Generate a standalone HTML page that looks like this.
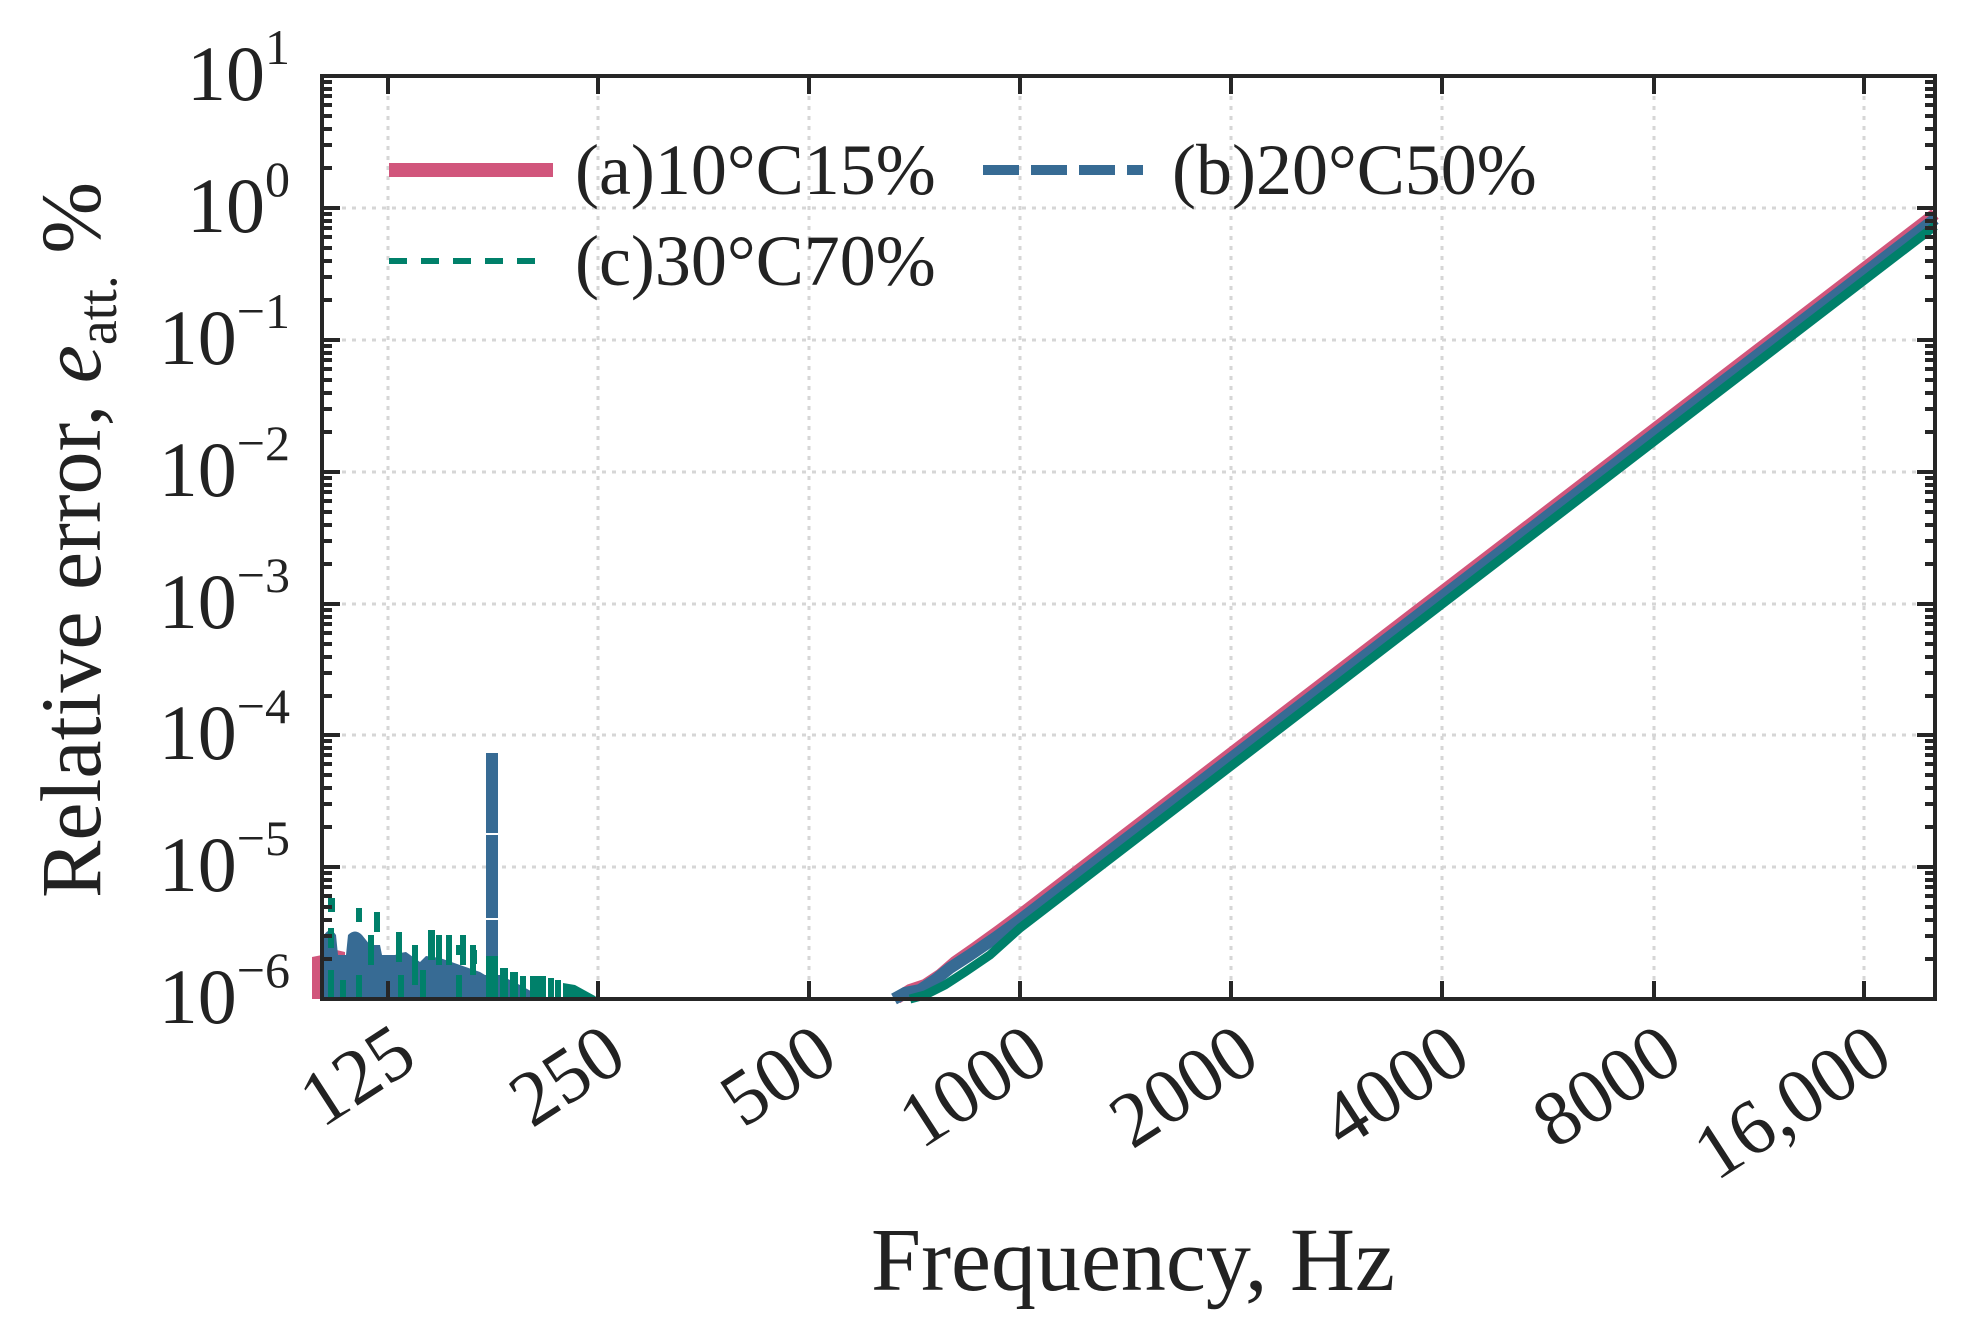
<!DOCTYPE html>
<html><head><meta charset="utf-8"><style>html,body{margin:0;padding:0;background:#fff}svg{display:block}text{font-family:"Liberation Serif",serif;fill:#222}</style></head>
<body>
<svg width="1970" height="1320" viewBox="0 0 1970 1320" xmlns="http://www.w3.org/2000/svg">
<rect width="1970" height="1320" fill="#fff"/>
<!-- grid -->
<g stroke="#d6d6d6" stroke-width="3" stroke-dasharray="4 6">
<line x1="322" y1="208" x2="1935" y2="208"/><line x1="322" y1="340" x2="1935" y2="340"/>
<line x1="322" y1="472" x2="1935" y2="472"/><line x1="322" y1="604" x2="1935" y2="604"/>
<line x1="322" y1="735" x2="1935" y2="735"/><line x1="322" y1="867" x2="1935" y2="867"/>
<line x1="388" y1="76" x2="388" y2="999"/><line x1="598" y1="76" x2="598" y2="999"/>
<line x1="809" y1="76" x2="809" y2="999"/><line x1="1020" y1="76" x2="1020" y2="999"/>
<line x1="1231" y1="76" x2="1231" y2="999"/><line x1="1442" y1="76" x2="1442" y2="999"/>
<line x1="1654" y1="76" x2="1654" y2="999"/><line x1="1864" y1="76" x2="1864" y2="999"/>
</g>
<!-- low-frequency noise -->
<path d="M312 999 V957 L322 955 L328 948 L345 952 L345 999 Z" fill="#d1567c"/>
<rect x="378" y="960" width="10" height="39" fill="#d1567c"/><rect x="418" y="965" width="6" height="34" fill="#d1567c"/>
<path d="M324 999 V935 Q330 926 336 935 L338 955 L346 955 L348 935 Q355 928 362 935 L370 945 L380 945 L382 955 L395 955 L400 953 L406 952 L420 962 L426 956 L440 958 L480 972 L485 975 L492 975 L500 975 L520 985 L545 999 Z" fill="#376b94"/>
<rect x="486" y="753" width="12" height="246" fill="#376b94"/>
<rect x="485" y="833" width="14" height="2" fill="#fff"/><rect x="485" y="918" width="14" height="2" fill="#fff"/>
<g fill="#00806a">
<rect x="328" y="898" width="7" height="14"/><rect x="328" y="928" width="6" height="20"/><rect x="328" y="970" width="6" height="29"/>
<rect x="356" y="908" width="6" height="14"/><rect x="374" y="912" width="6" height="20"/><rect x="368" y="935" width="6" height="30"/><rect x="356" y="975" width="6" height="24"/>
<rect x="396" y="932" width="6" height="30"/><rect x="398" y="975" width="6" height="24"/>
<rect x="412" y="945" width="6" height="40"/><rect x="428" y="930" width="7" height="30"/><rect x="436" y="935" width="6" height="30"/>
<rect x="446" y="935" width="6" height="30"/><rect x="460" y="935" width="6" height="30"/><rect x="470" y="945" width="6" height="30"/>
<rect x="446" y="942" width="6" height="12"/><rect x="456" y="945" width="6" height="10"/><rect x="470" y="950" width="7" height="14"/>
<rect x="486" y="956" width="12" height="43"/><rect x="500" y="968" width="8" height="31"/><rect x="510" y="972" width="8" height="27"/>
<rect x="520" y="976" width="6" height="23"/><rect x="530" y="976" width="16" height="23"/><rect x="548" y="978" width="6" height="21"/>
<rect x="555" y="980" width="6" height="19"/><path d="M563 999 V983 L575 985 L595 996 L598 999 Z"/>
<rect x="340" y="980" width="6" height="19"/><rect x="420" y="970" width="6" height="29"/><rect x="456" y="975" width="6" height="24"/>
</g>
<!-- main lines -->
<path d="M897 998 L910 990 L925 985 L940 975 L955 962 L975 948 L1000 930 L1020 915 L1935 214" stroke="#d1567c" stroke-width="12" fill="none"/>
<path d="M894 999 L905 993 L920 990 L935 980 L950 968 L970 955 L995 938 L1020 920 L1935 219" stroke="#376b94" stroke-width="12" fill="none"/>
<path d="M910 999 L925 995 L945 985 L965 972 L990 955 L1020 928 L1935 226" stroke="#00806a" stroke-width="9" fill="none"/>
<!-- axes -->
<rect x="322" y="76" width="1613" height="923" fill="none" stroke="#262626" stroke-width="4"/>
<g stroke="#262626" stroke-width="4">
<path d="M388 999v-18M598 999v-18M809 999v-18M1020 999v-18M1231 999v-18M1442 999v-18M1654 999v-18M1864 999v-18M388 76v18M598 76v18M809 76v18M1020 76v18M1231 76v18M1442 76v18M1654 76v18M1864 76v18"/>
<path d="M322 76h18M322 208h18M322 340h18M322 472h18M322 604h18M322 735h18M322 867h18M1935 76h-18M1935 208h-18M1935 340h-18M1935 472h-18M1935 604h-18M1935 735h-18M1935 867h-18"/>
<path id="mn" d="M322 168h10M322 145h10M322 129h10M322 116h10M322 105h10M322 96h10M322 89h10M322 82h10M1935 168h-10M1935 145h-10M1935 129h-10M1935 116h-10M1935 105h-10M1935 96h-10M1935 89h-10M1935 82h-10"/>
<use href="#mn" y="132"/><use href="#mn" y="264"/><use href="#mn" y="396"/><use href="#mn" y="528"/><use href="#mn" y="659"/><use href="#mn" y="791"/>
</g>
<!-- y tick labels -->
<g font-size="78" text-anchor="end">
<text x="290" y="100">10<tspan font-size="50" dy="-36">1</tspan></text>
<text x="290" y="232">10<tspan font-size="50" dy="-36">0</tspan></text>
<text x="290" y="364">10<tspan font-size="50" dy="-36">−1</tspan></text>
<text x="290" y="496">10<tspan font-size="50" dy="-36">−2</tspan></text>
<text x="290" y="628">10<tspan font-size="50" dy="-36">−3</tspan></text>
<text x="290" y="759">10<tspan font-size="50" dy="-36">−4</tspan></text>
<text x="290" y="891">10<tspan font-size="50" dy="-36">−5</tspan></text>
<text x="290" y="1023">10<tspan font-size="50" dy="-36">−6</tspan></text>
</g>
<!-- x tick labels -->
<g font-size="78" text-anchor="end">
<text transform="translate(420,1065) rotate(-33)">125</text>
<text transform="translate(630,1065) rotate(-33)">250</text>
<text transform="translate(841,1065) rotate(-33)">500</text>
<text transform="translate(1052,1065) rotate(-33)">1000</text>
<text transform="translate(1263,1065) rotate(-33)">2000</text>
<text transform="translate(1474,1065) rotate(-33)">4000</text>
<text transform="translate(1686,1065) rotate(-33)">8000</text>
<text transform="translate(1896,1065) rotate(-33)">16,000</text>
</g>
<text x="1133" y="1290" font-size="90" text-anchor="middle">Frequency, Hz</text>
<text transform="translate(100,540) rotate(-90)" font-size="86" text-anchor="middle">Relative error, <tspan font-style="italic">e</tspan><tspan font-size="56" dy="16">att.</tspan><tspan dy="-16"> %</tspan></text>
<!-- legend -->
<line x1="389" y1="170" x2="553" y2="170" stroke="#d1567c" stroke-width="14"/>
<text x="575" y="194" font-size="72">(a)10°C15%</text>
<line x1="983" y1="170" x2="1143" y2="170" stroke="#376b94" stroke-width="10" stroke-dasharray="36 12"/>
<text x="1172" y="194" font-size="72">(b)20°C50%</text>
<line x1="389" y1="261" x2="537" y2="261" stroke="#00806a" stroke-width="6" stroke-dasharray="18 14"/>
<text x="575" y="285" font-size="72">(c)30°C70%</text>
</svg>
</body></html>
